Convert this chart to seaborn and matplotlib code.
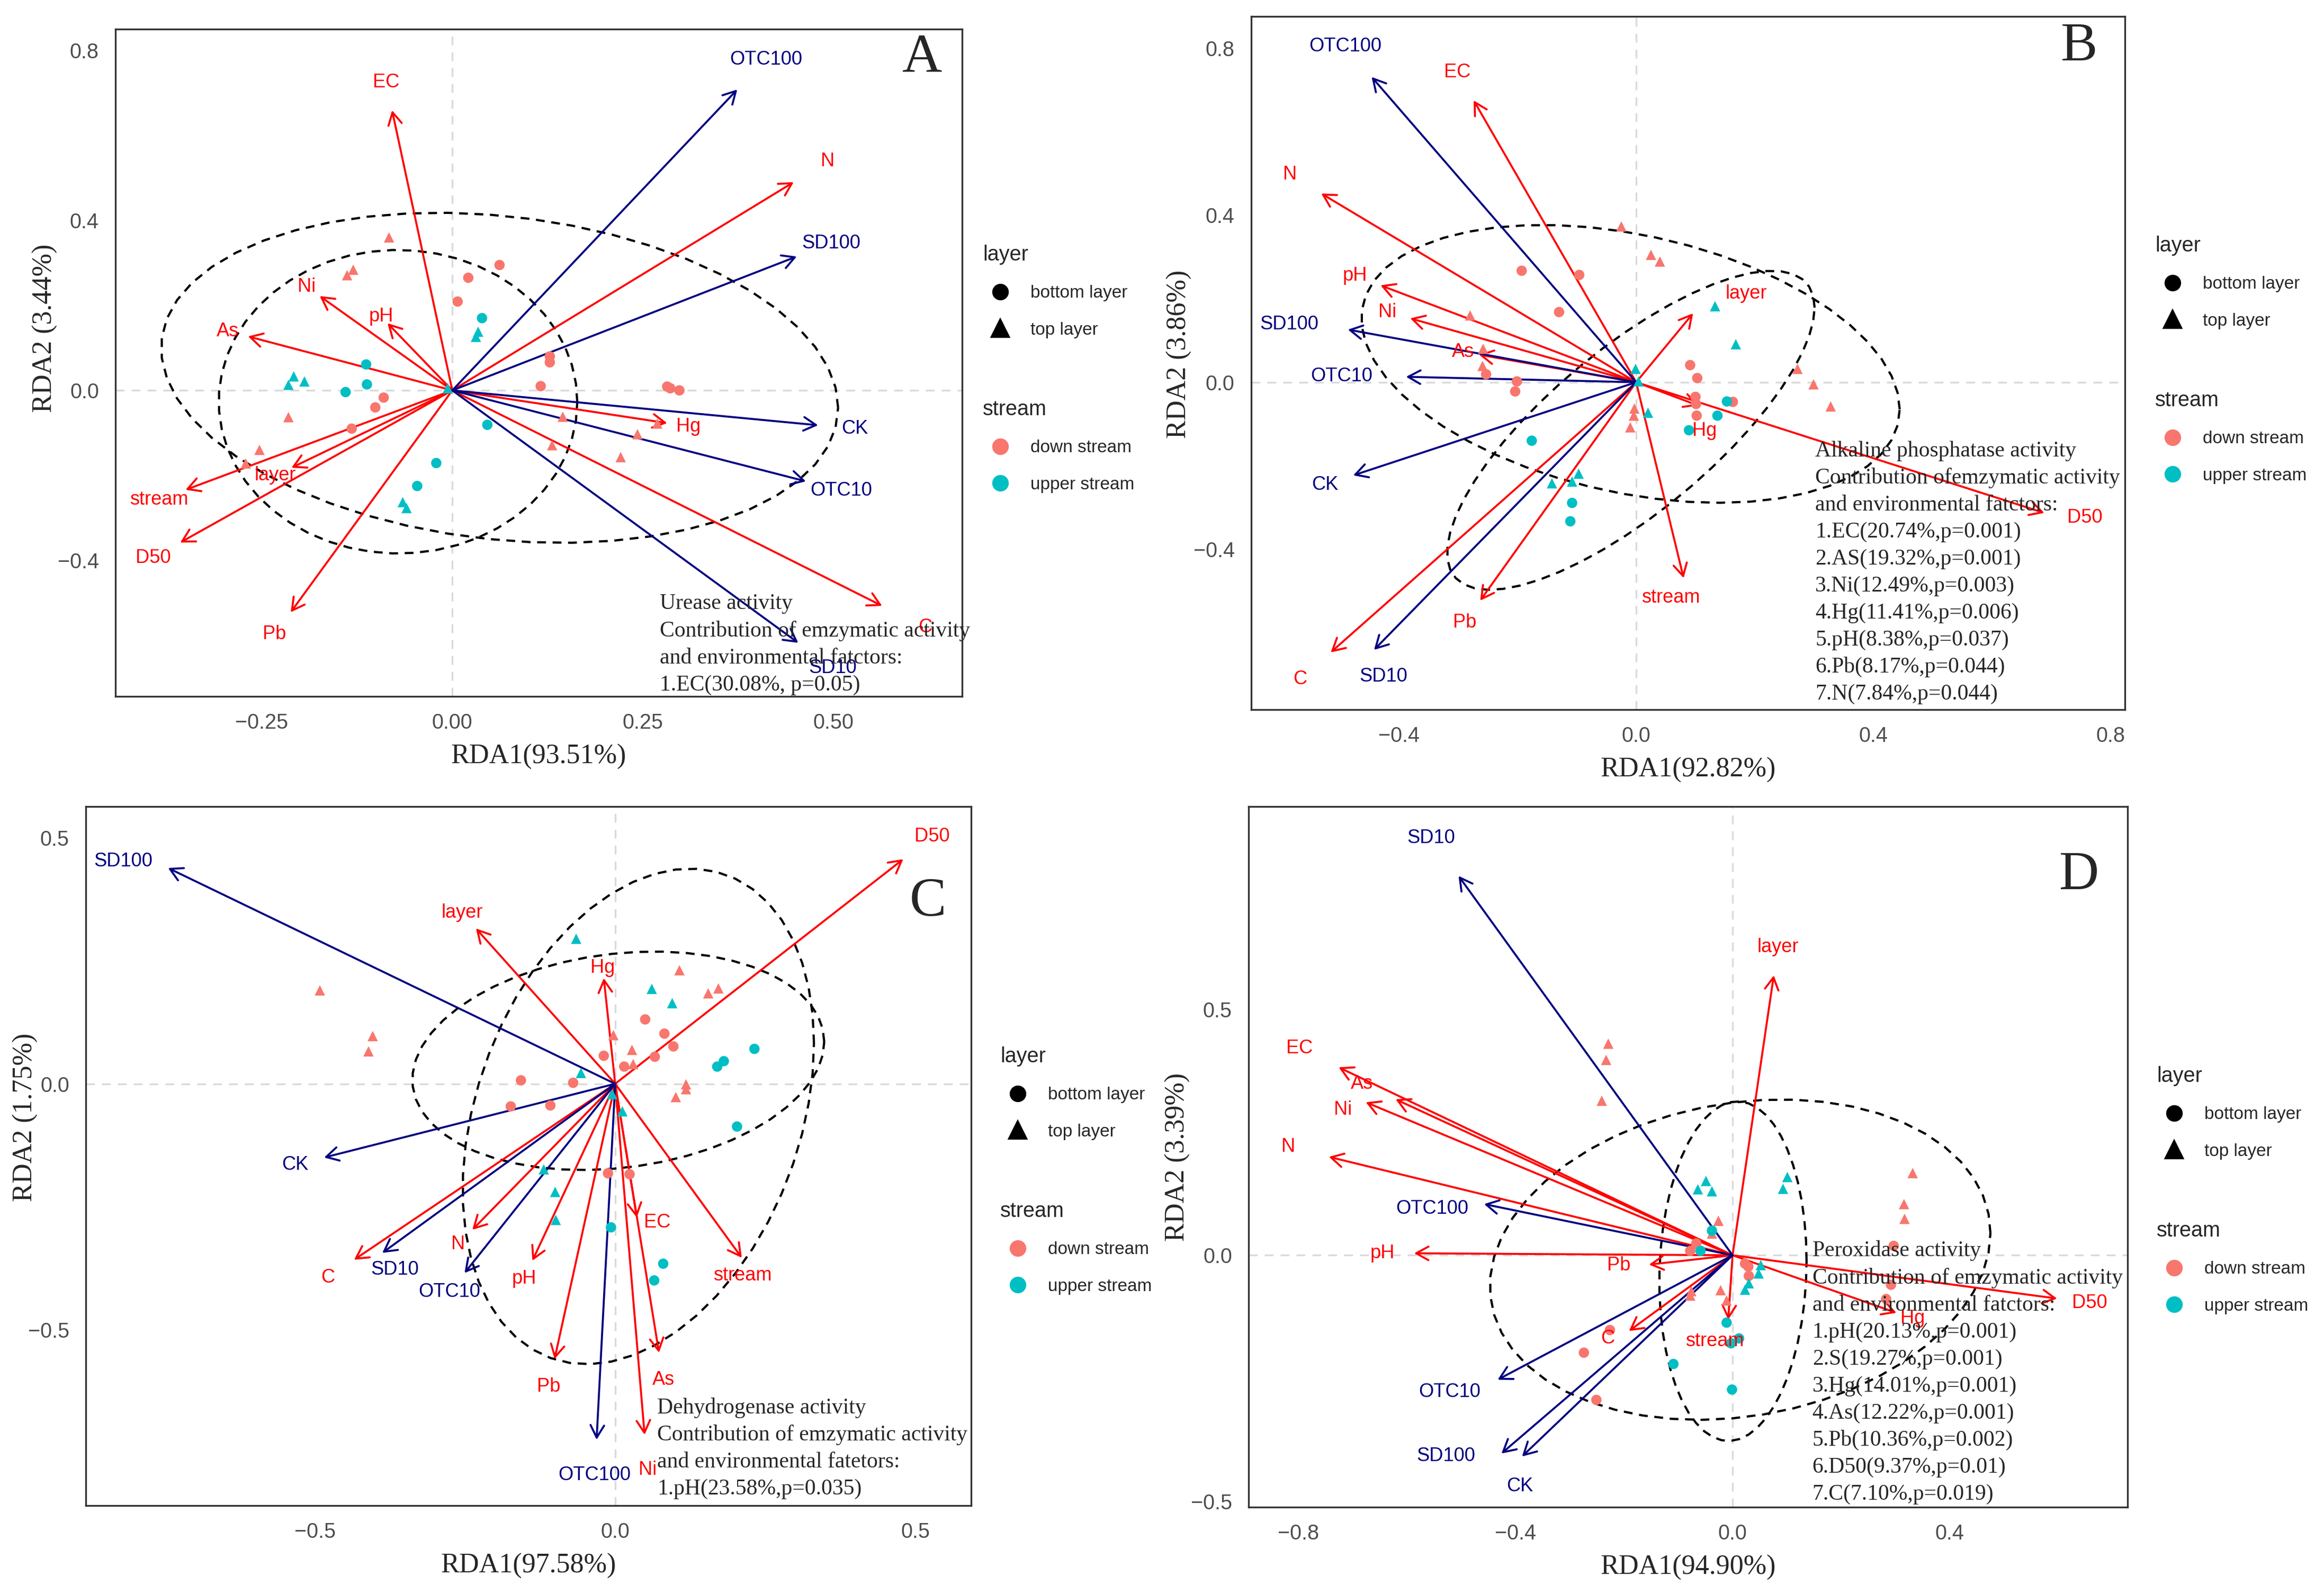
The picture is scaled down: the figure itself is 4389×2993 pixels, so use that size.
import numpy as np
import pandas as pd
import matplotlib
matplotlib.use("Agg")
import matplotlib.pyplot as plt
import seaborn as sns
from matplotlib.lines import Line2D
from matplotlib.ticker import FuncFormatter

# ---------------- panel A : urease ----------------
a_env = ["EC", "N", "Ni", "pH", "As", "Hg", "layer", "stream", "D50", "Pb", "C"]
a_env_x = [-0.079, 0.448, -0.174, -0.085, -0.268, 0.282, -0.211, -0.350, -0.357, -0.212, 0.564]
a_env_y = [0.659, 0.490, 0.222, 0.158, 0.127, -0.077, -0.182, -0.234, -0.358, -0.522, -0.507]
a_sp = ["OTC100", "SD100", "CK", "OTC10", "SD10"]
a_sp_x = [0.374, 0.452, 0.480, 0.464, 0.454]
a_sp_y = [0.708, 0.315, -0.082, -0.214, -0.594]
a_down_top_x = [-0.083, -0.138, -0.130, -0.215, -0.253, -0.271, 0.145, 0.131, 0.243, 0.221, 0.269]
a_down_top_y = [0.360, 0.271, 0.284, -0.063, -0.140, -0.172, -0.062, -0.129, -0.103, -0.157, -0.078]
a_down_bot_x = [0.062, 0.021, 0.007, 0.128, 0.128, 0.116, 0.282, 0.286, 0.298, -0.090, -0.101, -0.132]
a_down_bot_y = [0.295, 0.265, 0.209, 0.080, 0.066, 0.010, 0.009, 0.005, 0.000, -0.017, -0.040, -0.090]
a_up_top_x = [-0.208, -0.215, -0.194, 0.034, 0.031, -0.065, -0.060, -0.006]
a_up_top_y = [0.033, 0.013, 0.021, 0.138, 0.126, -0.263, -0.277, 0.005]
a_up_bot_x = [0.039, -0.113, -0.112, -0.140, 0.046, -0.021, -0.046]
a_up_bot_y = [0.170, 0.061, 0.014, -0.004, -0.081, -0.171, -0.225]
a_note = "Urease activity\nContribution of emzymatic activity\nand environmental fatctors:\n1.EC(30.08%, p=0.05)"

# ---------------- panel B : alkaline phosphatase ----------------
b_env = ["EC", "N", "pH", "Ni", "As", "layer", "Hg", "D50", "stream", "Pb", "C"]
b_env_x = [-0.274, -0.531, -0.431, -0.381, -0.265, 0.096, 0.105, 0.688, 0.080, -0.263, -0.515]
b_env_y = [0.675, 0.452, 0.232, 0.153, 0.066, 0.165, -0.056, -0.313, -0.469, -0.523, -0.647]
b_sp = ["OTC100", "SD100", "OTC10", "CK", "SD10"]
b_sp_x = [-0.446, -0.486, -0.388, -0.477, -0.442]
b_sp_y = [0.731, 0.126, 0.013, -0.223, -0.641]
b_down_top_x = [-0.025, 0.025, 0.040, -0.280, -0.258, -0.259, 0.272, 0.299, 0.328, -0.003, -0.004, -0.010]
b_down_top_y = [0.373, 0.305, 0.289, 0.160, 0.080, 0.039, 0.032, -0.005, -0.058, -0.063, -0.080, -0.108]
b_down_bot_x = [-0.193, -0.096, -0.130, 0.091, 0.103, -0.201, -0.204, 0.100, 0.101, 0.163, 0.102, -0.253]
b_down_bot_y = [0.267, 0.257, 0.168, 0.041, 0.010, 0.002, -0.022, -0.035, -0.052, -0.047, -0.080, 0.019]
b_up_top_x = [0.133, 0.168, -0.001, 0.020, -0.097, -0.108, -0.142, 0.004]
b_up_top_y = [0.182, 0.091, 0.032, -0.073, -0.219, -0.238, -0.242, 0.002]
b_up_bot_x = [0.153, 0.137, 0.089, -0.176, -0.108, -0.111]
b_up_bot_y = [-0.046, -0.080, -0.115, -0.140, -0.289, -0.333]
b_note = ("Alkaline phosphatase activity\nContribution ofemzymatic activity\n"
          "and environmental fatctors:\n1.EC(20.74%,p=0.001)\n2.AS(19.32%,p=0.001)\n"
          "3.Ni(12.49%,p=0.003)\n4.Hg(11.41%,p=0.006)\n5.pH(8.38%,p=0.037)\n"
          "6.Pb(8.17%,p=0.044)\n7.N(7.84%,p=0.044)")

# ---------------- panel C : dehydrogenase ----------------
c_env = ["D50", "layer", "Hg", "C", "N", "pH", "EC", "stream", "Pb", "As", "Ni"]
c_env_x = [0.480, -0.232, -0.019, -0.435, -0.238, -0.138, 0.036, 0.211, -0.101, 0.073, 0.049]
c_env_y = [0.457, 0.316, 0.215, -0.358, -0.297, -0.360, -0.272, -0.354, -0.560, -0.547, -0.714]
c_sp = ["SD100", "CK", "SD10", "OTC10", "OTC100"]
c_sp_x = [-0.745, -0.485, -0.388, -0.251, -0.031]
c_sp_y = [0.439, -0.150, -0.344, -0.385, -0.724]
c_down_top_x = [-0.492, -0.404, -0.411, 0.107, 0.155, 0.172, -0.003, 0.028, 0.030, 0.118, 0.118, 0.101]
c_down_top_y = [0.190, 0.097, 0.066, 0.231, 0.184, 0.194, 0.099, 0.069, 0.040, -0.001, -0.011, -0.027]
c_down_bot_x = [0.050, 0.082, 0.097, 0.066, 0.015, -0.019, -0.157, -0.070, -0.108, -0.174, -0.012, 0.024]
c_down_bot_y = [0.131, 0.102, 0.076, 0.055, 0.035, 0.057, 0.007, 0.002, -0.044, -0.046, -0.182, -0.184]
c_up_top_x = [-0.065, 0.061, 0.095, -0.057, -0.005, 0.012, -0.119, -0.100, -0.099]
c_up_top_y = [0.295, 0.193, 0.164, 0.022, -0.021, -0.056, -0.174, -0.220, -0.277]
c_up_bot_x = [0.232, 0.181, 0.170, 0.203, -0.007, 0.080, 0.065]
c_up_bot_y = [0.071, 0.046, 0.035, -0.087, -0.292, -0.366, -0.400]
c_note = ("Dehydrogenase activity\nContribution of emzymatic activity\n"
          "and environmental fatetors:\n1.pH(23.58%,p=0.035)")

# ---------------- panel D : peroxidase ----------------
d_env = ["EC", "As", "Ni", "N", "pH", "Pb", "C", "stream", "layer", "Hg", "D50"]
d_env_x = [-0.726, -0.621, -0.676, -0.744, -0.587, -0.154, -0.191, -0.008, 0.076, 0.302, 0.598]
d_env_y = [0.382, 0.317, 0.311, 0.200, 0.004, -0.019, -0.154, -0.131, 0.569, -0.117, -0.088]
d_sp = ["SD10", "OTC100", "OTC10", "SD100", "CK"]
d_sp_x = [-0.505, -0.458, -0.433, -0.426, -0.388]
d_sp_y = [0.771, 0.104, -0.253, -0.403, -0.409]
d_down_top_x = [-0.229, -0.233, -0.241, 0.332, 0.316, 0.317, -0.026, -0.038, -0.022, -0.076, -0.078, -0.011]
d_down_top_y = [0.430, 0.397, 0.314, 0.167, 0.104, 0.074, 0.070, 0.044, -0.071, -0.073, -0.082, -0.092]
d_down_bot_x = [-0.067, -0.078, 0.297, 0.023, 0.029, 0.030, 0.292, 0.283, -0.226, -0.274, -0.251]
d_down_bot_y = [0.024, 0.009, 0.019, -0.017, -0.023, -0.042, -0.060, -0.089, -0.152, -0.198, -0.294]
d_up_top_x = [-0.049, -0.064, -0.038, 0.101, 0.093, 0.052, 0.048, 0.030, 0.023]
d_up_top_y = [0.151, 0.134, 0.130, 0.159, 0.135, -0.020, -0.037, -0.057, -0.070]
d_up_bot_x = [-0.038, -0.059, -0.011, 0.012, -0.003, -0.109, -0.001]
d_up_bot_y = [0.050, 0.009, -0.137, -0.169, -0.179, -0.221, -0.273]
d_note = ("Peroxidase activity\nContribution of emzymatic activity\n"
          "and environmental fatctors:\n1.pH(20.13%,p=0.001)\n2.S(19.27%,p=0.001)\n"
          "3.Hg(14.01%,p=0.001)\n4.As(12.22%,p=0.001)\n5.Pb(10.36%,p=0.002)\n"
          "6.D50(9.37%,p=0.01)\n7.C(7.10%,p=0.019)")

PAL = {"down stream": "#F8766D", "upper stream": "#00BFC4"}
MARK = {"bottom layer": "o", "top layer": "^"}
ENV_COL = "red"
SP_COL = "navy"
SERIF = ["Liberation Serif", "DejaVu Serif"]

# labels sit at 1.1 x the arrow tip; a few were pushed aside in the original (repel-like)
NUDGE = {
    ("B", "OTC10"): (-0.07, 0.0), ("B", "SD100"): (-0.05, 0.0), ("B", "Hg"): (0.0, -0.055),
    ("B", "layer"): (0.08, 0.03), ("B", "stream"): (-0.03, 0.0), ("B", "SD10"): (0.06, 0.0),
    ("B", "D50"): (0.0, 0.02),
    ("C", "SD100"): (0.0, -0.03), ("C", "SD10"): (0.06, 0.0), ("C", "EC"): (0.03, 0.017),
    ("C", "stream"): (-0.02, 0.0),
    ("D", "SD100"): (-0.06, 0.035), ("D", "CK"): (0.035, -0.02), ("D", "OTC10"): (-0.045, 0.0),
    ("D", "OTC100"): (-0.05, -0.02), ("D", "Pb"): (-0.04, 0.0), ("D", "Ni"): (0.025, -0.046),
    ("D", "C"): (-0.02, 0.0), ("D", "stream"): (-0.024, -0.03),
}


def sites_frame(dt_x, dt_y, db_x, db_y, ut_x, ut_y, ub_x, ub_y):
    parts = []
    for xs, ys, st, la in [(dt_x, dt_y, "down stream", "top layer"),
                           (db_x, db_y, "down stream", "bottom layer"),
                           (ut_x, ut_y, "upper stream", "top layer"),
                           (ub_x, ub_y, "upper stream", "bottom layer")]:
        parts.append(pd.DataFrame({"RDA1": xs, "RDA2": ys, "stream": st, "layer": la}))
    return pd.concat(parts, ignore_index=True)


def cov_trob(xy, nu=5, maxit=25, tol=0.01):
    # same idea as MASS::cov.trob used by ggplot's stat_ellipse
    n, p = xy.shape
    loc = xy.mean(axis=0)
    w = np.ones(n)
    for _ in range(maxit):
        w0 = w
        X = xy - loc
        S = (X * (w / w.sum())[:, None]).T @ X
        Q = np.einsum("ij,jk,ik->i", X, np.linalg.inv(S), X)
        w = (nu + p) / (nu + Q)
        loc = (w[:, None] * xy).sum(axis=0) / w.sum()
        if np.all(np.abs(w - w0) < tol):
            break
    cov = (X * w[:, None]).T @ X / n
    return loc, cov


def draw_ellipse(ax, sub, level=0.95):
    xy = sub[["RDA1", "RDA2"]].to_numpy()
    m = len(xy) - 1
    qf = m / 2 * ((1 - level) ** (-2 / m) - 1)  # F(2, m) quantile
    radius = np.sqrt(2 * qf)
    loc, cov = cov_trob(xy)
    t = np.linspace(0, 2 * np.pi, 52)
    circ = np.column_stack([np.cos(t), np.sin(t)])
    pts = loc + radius * circ @ np.linalg.cholesky(cov).T
    ax.plot(pts[:, 0], pts[:, 1], color="black", lw=1.0, ls=(0, (4, 3)), zorder=2)


def tick_fmt(fmt):
    return FuncFormatter(lambda v, pos: (fmt % v).replace("-", "\u2212"))


def rda_panel(ax, letter, env, ex, ey, sp, sx, sy, sites, note, note_xy, letter_xy,
              xlim, ylim, xt, yt, xlab, ylab, ylab_xy):
    ax.axhline(0, color="#DADADA", lw=0.8, ls=(0, (5, 4)), zorder=0)
    ax.axvline(0, color="#DADADA", lw=0.8, ls=(0, (5, 4)), zorder=0)
    for st in ["down stream", "upper stream"]:
        draw_ellipse(ax, sites[sites["stream"] == st])

    for names, xs, ys, col in [(env, ex, ey, ENV_COL), (sp, sx, sy, SP_COL)]:
        for name, x, y in zip(names, xs, ys):
            ax.annotate("", xy=(x, y), xytext=(0, 0),
                        arrowprops=dict(arrowstyle="->,head_length=0.4,head_width=0.22",
                                        color=col, lw=0.9, shrinkA=0, shrinkB=0,
                                        mutation_scale=14), zorder=3)
            dx, dy = NUDGE.get((letter, name), (0.0, 0.0))
            ax.text(x * 1.1 + dx, y * 1.1 + dy, name, color=col, fontsize=8.7,
                    ha="center", va="center", zorder=5)

    sns.scatterplot(data=sites, x="RDA1", y="RDA2", hue="stream", style="layer",
                    palette=PAL, markers=MARK, s=22, edgecolor="none",
                    legend=False, ax=ax, zorder=4)

    ax.text(note_xy[0], note_xy[1], note, family=SERIF, fontsize=10,
            ha="left", va="top", linespacing=1.42, zorder=6)
    ax.text(letter_xy[0], letter_xy[1], letter, transform=ax.transAxes,
            family=SERIF, fontsize=25, ha="center", va="center")

    ax.set_xlim(xlim)
    ax.set_ylim(ylim)
    ax.set_xticks(xt)
    ax.set_yticks(yt)
    ax.xaxis.set_major_formatter(tick_fmt("%.2f" if letter == "A" else "%.1f"))
    ax.yaxis.set_major_formatter(tick_fmt("%.1f"))
    ax.set_xlabel(xlab, family=SERIF, fontsize=12.5, labelpad=5)
    ax.set_ylabel(ylab, family=SERIF, fontsize=12.5)
    ax.yaxis.set_label_coords(*ylab_xy)
    ax.tick_params(length=4, width=0.8, color="#333333", labelcolor="#4D4D4D",
                   labelsize=9.5)
    for s in ax.spines.values():
        s.set_visible(True)
        s.set_color("#333333")
        s.set_linewidth(0.8)


def add_legends(fig, x_px, y_px, W, H):
    layer_h = [Line2D([], [], marker="o", ls="", color="black", markersize=6.5),
               Line2D([], [], marker="^", ls="", color="black", markersize=7.5)]
    stream_h = [Line2D([], [], marker="o", ls="", color=PAL["down stream"], markersize=6.5),
                Line2D([], [], marker="o", ls="", color=PAL["upper stream"], markersize=6.5)]
    kw = dict(loc="upper left", frameon=False, fontsize=8, title_fontsize=9.5,
              alignment="left", borderpad=0, borderaxespad=0, labelspacing=1.15,
              handletextpad=0.7, handlelength=2.0)
    fig.legend(layer_h, ["bottom layer", "top layer"], title="layer",
               bbox_to_anchor=(x_px / W, 1 - (y_px - 22) / H), **kw)
    fig.legend(stream_h, ["down stream", "upper stream"], title="stream",
               bbox_to_anchor=(x_px / W, 1 - (y_px + 270) / H), **kw)


sns.set_style("white")
plt.rcParams["font.family"] = ["Liberation Sans", "DejaVu Sans"]

W, H = 4389, 2993
fig = plt.figure(figsize=(W / 300, H / 300), dpi=300)

ax_a = fig.add_axes([218 / W, 1 - 1315 / H, 1599 / W, 1260 / H])
ax_b = fig.add_axes([2363 / W, 1 - 1340 / H, 1650 / W, 1309 / H])
ax_c = fig.add_axes([162 / W, 1 - 2843 / H, 1672 / W, 1320 / H])
ax_d = fig.add_axes([2358 / W, 1 - 2846 / H, 1660 / W, 1323 / H])

rda_panel(ax_a, "A", a_env, a_env_x, a_env_y, a_sp, a_sp_x, a_sp_y,
          sites_frame(a_down_top_x, a_down_top_y, a_down_bot_x, a_down_bot_y,
                      a_up_top_x, a_up_top_y, a_up_bot_x, a_up_bot_y),
          a_note, (0.272, -0.478), (0.953, 0.956),
          (-0.442, 0.669), (-0.720, 0.850),
          [-0.25, 0, 0.25, 0.5], [-0.4, 0, 0.4, 0.8],
          "RDA1(93.51%)", "RDA2 (3.44%)", (-0.068, 0.552))

rda_panel(ax_b, "B", b_env, b_env_x, b_env_y, b_sp, b_sp_x, b_sp_y,
          sites_frame(b_down_top_x, b_down_top_y, b_down_bot_x, b_down_bot_y,
                      b_up_top_x, b_up_top_y, b_up_bot_x, b_up_bot_y),
          b_note, (0.302, -0.140), (0.948, 0.956),
          (-0.649, 0.824), (-0.784, 0.876),
          [-0.4, 0, 0.4, 0.8], [-0.4, 0, 0.4, 0.8],
          "RDA1(92.82%)", "RDA2 (3.86%)", (-0.068, 0.513))

rda_panel(ax_c, "C", c_env, c_env_x, c_env_y, c_sp, c_sp_x, c_sp_y,
          sites_frame(c_down_top_x, c_down_top_y, c_down_bot_x, c_down_bot_y,
                      c_up_top_x, c_up_top_y, c_up_bot_x, c_up_bot_y),
          c_note, (0.070, -0.638), (0.951, 0.863),
          (-0.882, 0.593), (-0.858, 0.564),
          [-0.5, 0, 0.5], [-0.5, 0, 0.5],
          "RDA1(97.58%)", "RDA2 (1.75%)", (-0.054, 0.555))

rda_panel(ax_d, "D", d_env, d_env_x, d_env_y, d_sp, d_sp_x, d_sp_y,
          sites_frame(d_down_top_x, d_down_top_y, d_down_bot_x, d_down_bot_y,
                      d_up_top_x, d_up_top_y, d_up_bot_x, d_up_bot_y),
          d_note, (0.147, 0.030), (0.945, 0.901),
          (-0.892, 0.728), (-0.512, 0.912),
          [-0.8, -0.4, 0, 0.4], [-0.5, 0, 0.5],
          "RDA1(94.90%)", "RDA2 (3.39%)", (-0.066, 0.5))

add_legends(fig, 1856, 484, W, H)
add_legends(fig, 4070, 467, W, H)
add_legends(fig, 1889, 1998, W, H)
add_legends(fig, 4073, 2035, W, H)

fig.savefig("out.png", dpi=300, facecolor="white")
